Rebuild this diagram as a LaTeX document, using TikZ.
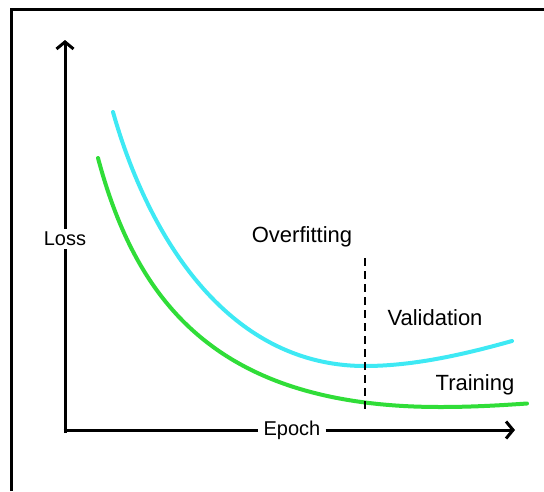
\documentclass[tikz,border=0pt]{standalone}
\usepackage{fontspec}
\setmainfont{Liberation Sans}
\usetikzlibrary{arrows.meta}
\definecolor{valcol}{HTML}{3EE9F4}
\definecolor{traincol}{HTML}{30DD38}
\tikzset{
  axis/.style={line width=3pt, black},
  axtip/.style={axis, -{Straight Barb[length=7pt,width=17pt,line width=3pt]}},
  curve/.style={line width=4pt, line cap=round},
  axlabel/.style={font=\fontsize{20}{24}\selectfont, inner sep=4pt, fill=white},
  lbl/.style={font=\fontsize{22}{26}\selectfont, inner sep=0pt}
}
\begin{document}
\begin{tikzpicture}[x=1pt,y=-1pt]
\useasboundingbox (0,0) rectangle (544,491);
% frame
\draw[line width=3pt] (11,491) -- (11,9) -- (546,9);
% axes
\coordinate (o) at (65,431);
\coordinate (ytip) at (65,40);
\coordinate (xtip) at (515,430);
\node[axlabel, inner sep=3pt] (loss) at (65,239) {Loss};
\node[axlabel, inner xsep=5pt] (epoch) at (292,430) {Epoch};
\draw[axis] (65,433) -- (loss.south);
\draw[axtip] (loss.north) -- (ytip);
\draw[axis] (63.5,430) -- (epoch.west);
\draw[axtip] (epoch.east) -- (xtip);
% curves
\draw[curve, valcol] (113,112) .. controls (147,232) and (225,366) .. (365,366)
                      .. controls (415,366) and (467,353.6) .. (512,341);
\draw[curve, traincol] (98,158) .. controls (136,300) and (215,407) .. (440,407)
                      .. controls (475,407) and (505,405) .. (527,403.5);
% overfitting line
\coordinate (dtop) at (365,258);
\coordinate (dbot) at (365,413);
\draw[line width=1.8pt, dash pattern=on 8pt off 5pt] (dtop) -- (dbot);
% labels
\node[lbl] (over) at (302,237) {Overfitting};
\node[lbl] (val) at (435,318) {Validation};
\node[lbl] (train) at (475,385) {Training};
\end{tikzpicture}
\end{document}
